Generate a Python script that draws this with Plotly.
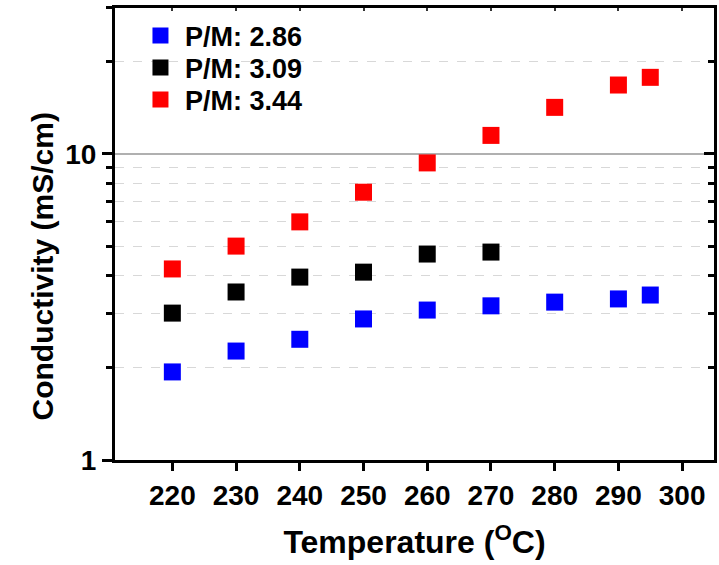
import plotly.graph_objects as go

temps_a = [220, 230, 240, 250, 260, 270, 280, 290, 295]
cond_286 = [1.94, 2.27, 2.48, 2.89, 3.09, 3.19, 3.28, 3.36, 3.46]
temps_b = [220, 230, 240, 250, 260, 270]
cond_309 = [3.02, 3.54, 3.96, 4.11, 4.71, 4.78]
temps_c = [220, 230, 240, 250, 260, 270, 280, 290, 295]
cond_344 = [4.21, 5.0, 6.0, 7.5, 9.35, 11.5, 14.2, 16.8, 17.8]

x_ticks = [220, 230, 240, 250, 260, 270, 280, 290, 300]
y_major = [1, 10]
y_minor = [2, 3, 4, 5, 6, 7, 8, 9, 20, 30]

series = [
    ("P/M: 2.86", temps_a, cond_286, "#0000ff", "legend"),
    ("P/M: 3.09", temps_b, cond_309, "#000000", "legend2"),
    ("P/M: 3.44", temps_c, cond_344, "#ff0000", "legend3"),
]

fig = go.Figure()
for name, x, y, c, lg in series:
    fig.add_trace(go.Scatter(x=x, y=y, mode="markers", name=name, legend=lg,
                             marker=dict(symbol="square", size=17, color=c,
                                         line=dict(width=0))))

# invisible trace so the mirrored (top/right) tick axes get drawn
fig.add_trace(go.Scatter(x=temps_c, y=cond_344, mode="markers", xaxis="x2", yaxis="y2",
                         marker=dict(opacity=0), showlegend=False, hoverinfo="skip"))

font_main = "Arial, Liberation Sans, sans-serif"

def leg(ypx):
    return dict(x=0.035, y=(460 - ypx) / 452, xanchor="left", yanchor="middle",
                bgcolor="rgba(0,0,0,0)", font=dict(size=27, family=font_main, weight="bold"),
                itemsizing="trace", tracegroupgap=0, itemwidth=39)

XR = [211, 305]
YR = [0, 1.477]

fig.update_layout(
    width=719, height=565,
    margin=dict(l=115, r=2, t=8, b=105),
    paper_bgcolor="white", plot_bgcolor="white",
    font=dict(family=font_main, color="black"),
    showlegend=True,
    legend=leg(36), legend2=leg(68), legend3=leg(100),
    xaxis=dict(range=XR, tickvals=x_ticks,
               ticks="outside", ticklen=8, tickwidth=3, tickcolor="black",
               showline=True, linewidth=3, linecolor="black", mirror=True,
               showgrid=False, zeroline=False,
               tickfont=dict(size=28, family=font_main, weight="bold"),
               title=dict(text="Temperature (<sup>O</sup>C)", standoff=22,
                          font=dict(size=32, family=font_main, weight="bold"))),
    yaxis=dict(type="log", range=YR, tickvals=y_major,
               ticks="outside", ticklen=10, tickwidth=3, tickcolor="black",
               showline=True, linewidth=3, linecolor="black", mirror=True,
               showgrid=True, gridcolor="#b0b0b0", gridwidth=1.5, zeroline=False,
               tickfont=dict(size=28, family=font_main, weight="bold"),
               minor=dict(tickvals=y_minor, ticks="outside",
                          ticklen=6, tickwidth=3, tickcolor="black",
                          showgrid=True, gridcolor="#d8d8d8", griddash="dash", gridwidth=1)),
    xaxis2=dict(overlaying="x", side="top", range=XR, tickvals=x_ticks, showticklabels=False,
                ticks="inside", ticklen=3, tickwidth=2, tickcolor="#333", showgrid=False,
                zeroline=False, showline=False),
    yaxis2=dict(overlaying="y", side="right", type="log", range=YR, tickvals=y_major,
                showticklabels=False, ticks="inside", ticklen=10, tickwidth=3, tickcolor="black",
                showgrid=False, zeroline=False, showline=False,
                minor=dict(tickvals=y_minor, ticks="inside", ticklen=6, tickwidth=3,
                           tickcolor="black", showgrid=False)),
    annotations=[dict(text="<b>Conductivity (mS/cm)</b>", xref="paper", yref="paper",
                      x=(42 - 115) / 603, y=(460 - 266) / 452, xanchor="center", yanchor="middle",
                      textangle=-90, showarrow=False,
                      font=dict(size=30, family=font_main, color="black"))],
)

fig.write_html("out.html")
